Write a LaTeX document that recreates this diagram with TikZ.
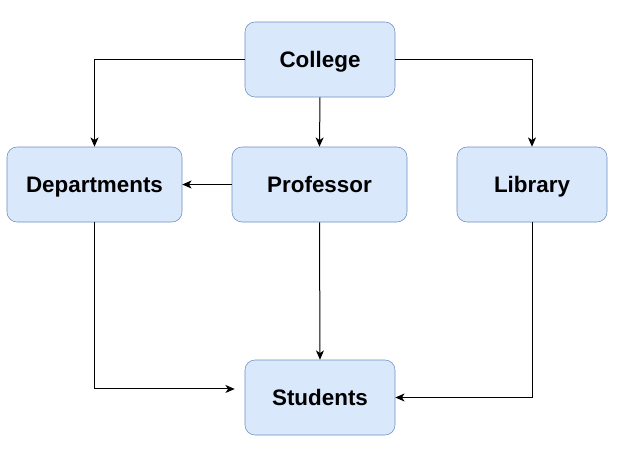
\documentclass[tikz,border=0pt]{standalone}
\usepackage{fontspec}
\setmainfont{Liberation Sans}
\usetikzlibrary{positioning}
\usetikzlibrary{arrows.meta}

\definecolor{boxfill}{HTML}{DAE8FC}
\definecolor{boxline}{HTML}{6C8EBF}

\tikzset{
  unit/.style={rectangle, rounded corners=7.5pt, draw=boxline, fill=boxfill,
    minimum height=56.25pt, text height=12pt, text depth=0pt,
    font=\fontsize{16.8}{20}\selectfont\bfseries},
  short/.style={unit, minimum width=112.5pt},
  wide/.style={unit, minimum width=131.25pt},
  link/.style={->, black, line width=0.75pt}
}

\begin{document}
\begin{tikzpicture}[x=0.75pt, y=-0.75pt, >={Stealth[length=7pt, width=6pt, inset=2pt]}]
  \useasboundingbox (0,0) rectangle (626,451);
  % boxes
  \node[short, name=college] at (320,59.5) {College};
  \node[wide, name=dept] at (94.5,184.5) {Departments};
  \node[wide, name=prof] at (319.5,184.5) {Professor};
  \node[short, name=lib] at (532,184.5) {Library};
  \node[short, name=stud] at (320,397.5) {Students};

  % links
  \draw[link] (college.west) -| (dept.north);
  \draw[link] (college.south) -- (prof.north);
  \draw[link] (college.east) -| (lib.north);
  \draw[link] (prof.west) -- (dept.east);
  \draw[link] (prof.south) -- (stud.north);
  \draw[link, shorten >=7.5pt] (dept.south) |- ([yshift=6.4pt]stud.west);
  \draw[link] (lib.south) |- (stud.east);
\end{tikzpicture}
\end{document}
